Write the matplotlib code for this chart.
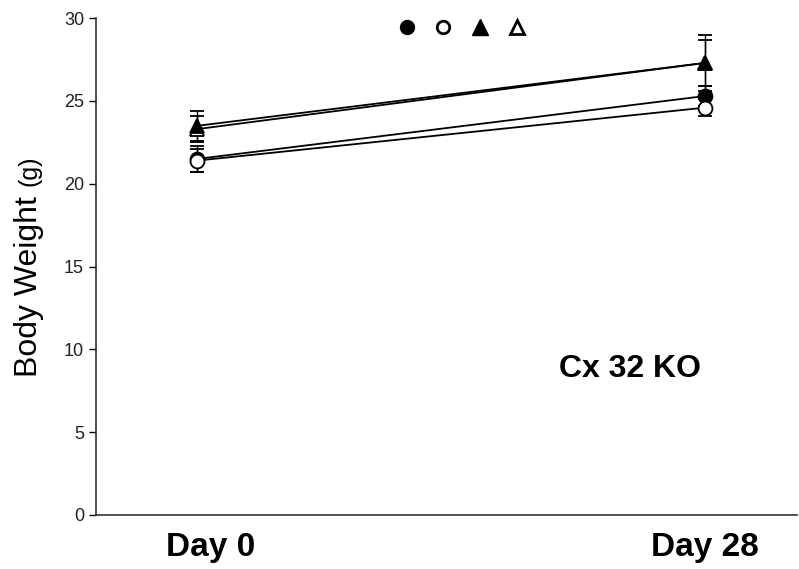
import matplotlib.pyplot as plt
from matplotlib.lines import Line2D

plt.rcParams['font.family'] = ['Liberation Sans', 'DejaVu Sans']

days = ['Day 0', 'Day 28']
x = [0, 1]
day_label_shift = [10, 0]  # horizontal nudge of each day label, points

# body weight (g), mean and SEM for the four groups
filled_circle = [21.5, 25.3]
filled_circle_err = [0.8, 0.6]
open_circle = [21.4, 24.6]
open_circle_err = [0.7, 0.5]
filled_tri = [23.5, 27.3]
filled_tri_err = [0.9, 1.7]
open_tri = [23.3, 27.3]
open_tri_err = [0.8, 1.4]

fig = plt.figure(figsize=(7.99, 5.69), dpi=100)
ax = fig.add_axes([0.120, 0.095, 0.8775, 0.873])

common = dict(color='black', lw=1.3, capsize=5, elinewidth=1, capthick=1,
              markersize=10, markeredgewidth=1.3, markeredgecolor='black')

ax.errorbar(x, filled_circle, yerr=filled_circle_err, marker='o',
            markerfacecolor='black', **common)
ax.errorbar(x, open_circle, yerr=open_circle_err, marker='o',
            markerfacecolor='white', **common)
ax.errorbar(x, open_tri, yerr=open_tri_err, marker='^',
            markerfacecolor='white', **common)
ax.errorbar(x, filled_tri, yerr=filled_tri_err, marker='^',
            markerfacecolor='black', **common)

ax.set_xlim(-0.199, 1.181)
ax.set_ylim(0, 30)
ax.set_yticks(range(0, 31, 5))
ax.set_xticks([])
ax.tick_params(axis='y', length=5, width=1, labelsize=13, labelcolor='#222222')

# day labels under the axis
for xi, name, dx in zip(x, days, day_label_shift):
    ax.annotate(name, xy=(xi, 0), xycoords=ax.get_xaxis_transform(),
                xytext=(dx, -12), textcoords='offset points',
                fontsize=24, fontweight='bold', ha='center', va='top')

for side in ['top', 'right']:
    ax.spines[side].set_visible(False)
for side in ['left', 'bottom']:
    ax.spines[side].set_linewidth(1.2)
    ax.spines[side].set_color('#333333')

# y label: large title with smaller unit, both on one baseline
ax.text(-0.084, 0.278, 'Body Weight', transform=ax.transAxes, rotation=90,
        rotation_mode='anchor', fontsize=23, ha='left', va='baseline')
ax.text(-0.084, 0.662, '(g)', transform=ax.transAxes, rotation=90,
        rotation_mode='anchor', fontsize=18, ha='left', va='baseline')

ax.text(0.762, 0.278, 'Cx 32 KO', transform=ax.transAxes, fontsize=23,
        fontweight='bold', ha='center', va='baseline')

# key symbols without labels along the top
handles = [
    Line2D([], [], ls='none', marker='o', color='black', markerfacecolor='black', markersize=10),
    Line2D([], [], ls='none', marker='o', color='black', markerfacecolor='white', markersize=9, markeredgewidth=2),
    Line2D([], [], ls='none', marker='^', color='black', markerfacecolor='black', markersize=11),
    Line2D([], [], ls='none', marker='^', color='black', markerfacecolor='white', markersize=10, markeredgewidth=2),
]
ax.legend(handles, ['', '', '', ''], ncol=4, frameon=False, loc='center',
          bbox_to_anchor=(0.522, 0.98), handlelength=1, handletextpad=0,
          columnspacing=1.65, borderpad=0)

fig.savefig('out.png', dpi=100)
